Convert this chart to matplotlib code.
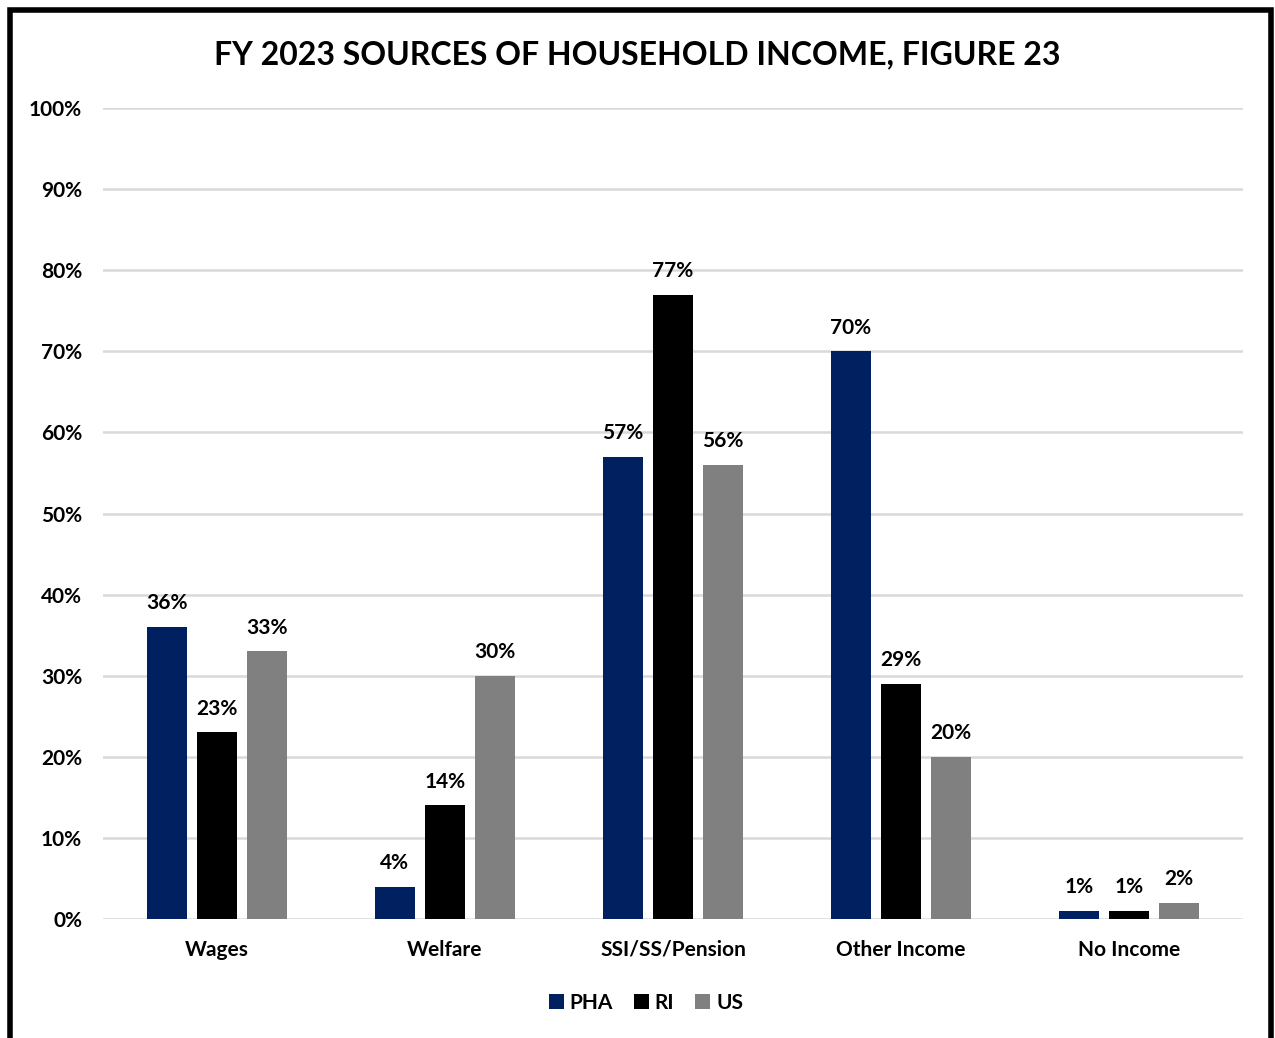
import numpy as np
import matplotlib.pyplot as plt
from matplotlib.patches import Rectangle

categories = ['Wages', 'Welfare', 'SSI/SS/Pension', 'Other Income', 'No Income']
pha = [36, 4, 57, 70, 1]
ri = [23, 14, 77, 29, 1]
us = [33, 30, 56, 20, 2]
series_names = ['PHA', 'RI', 'US']
colors = ['#002060', '#000000', '#808080']

plt.rcParams['font.family'] = ['Lato', 'DejaVu Sans']
plt.rcParams['font.weight'] = 'bold'

fig = plt.figure(figsize=(12.75, 10.38), dpi=100)
ax = fig.add_axes([103 / 1275, 119 / 1038, 1140 / 1275, 811 / 1038])

x = np.arange(len(categories))
offset = 0.22
width = 0.175

for i, (vals, name, col) in enumerate(zip([pha, ri, us], series_names, colors)):
    pos = x + (i - 1) * offset
    ax.bar(pos, np.array(vals) / 100, width, color=col, label=name, zorder=3)
    for p, v in zip(pos, vals):
        ax.text(p, v / 100 + 0.017, f'{v}%', ha='center', va='bottom',
                fontsize=15, fontweight='bold', color='black')

ax.set_xlim(-0.5, len(categories) - 0.5)
ax.set_ylim(0, 1.0)
ax.set_yticks(np.arange(0, 1.01, 0.1))
ax.set_yticklabels([f'{int(round(t * 100))}%' for t in np.arange(0, 1.01, 0.1)])
ax.set_xticks(x)
ax.set_xticklabels(categories)
ax.tick_params(axis='both', length=0, labelsize=15)
ax.tick_params(axis='y', pad=15)
ax.tick_params(axis='x', pad=15)
for lab in ax.get_xticklabels() + ax.get_yticklabels():
    lab.set_fontweight('bold')

ax.grid(axis='y', color='#d9d9d9', linewidth=1.8, zorder=0)
for s in ax.spines.values():
    s.set_visible(False)

fig.text(0.5, 1 - 55 / 1038, 'FY 2023 SOURCES OF HOUSEHOLD INCOME, FIGURE 23',
         ha='center', va='center', fontsize=23, fontweight='bold')

leg = fig.legend(loc='center', bbox_to_anchor=(646 / 1275, 1 - 1003 / 1038), ncol=3,
                 frameon=False, fontsize=15, handlelength=0.7, handleheight=0.7,
                 handletextpad=0.3, columnspacing=1.0)
for t in leg.get_texts():
    t.set_fontweight('bold')

# outer frame around the chart
fig.patches.append(Rectangle((10 / 1275, -0.05), 1261 / 1275, 1.05 - 10 / 1038,
                             transform=fig.transFigure, fill=False,
                             edgecolor='black', linewidth=4))

fig.savefig('out.png', dpi=100)
